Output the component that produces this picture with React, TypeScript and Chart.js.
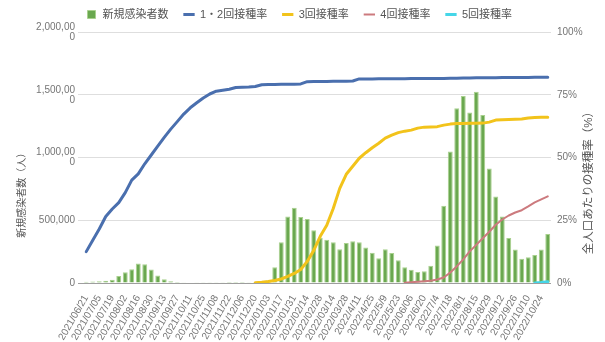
import React, { useEffect, useRef } from 'react';
import { Chart, registerables } from 'chart.js';

Chart.register(...registerables);

// Weekly periods (Monday of each week)
const WEEKS = [
  '2021/06/21', '2021/06/28', '2021/07/05', '2021/07/12', '2021/07/19', '2021/07/26',
  '2021/08/02', '2021/08/09', '2021/08/16', '2021/08/23', '2021/08/30', '2021/09/06',
  '2021/09/13', '2021/09/20', '2021/09/27', '2021/10/04', '2021/10/11', '2021/10/18',
  '2021/10/25', '2021/11/01', '2021/11/08', '2021/11/15', '2021/11/22', '2021/11/29',
  '2021/12/06', '2021/12/13', '2021/12/20', '2021/12/27', '2022/01/03', '2022/01/10',
  '2022/01/17', '2022/01/24', '2022/01/31', '2022/02/07', '2022/02/14', '2022/02/21',
  '2022/02/28', '2022/03/07', '2022/03/14', '2022/03/21', '2022/03/28', '2022/4/4',
  '2022/4/11', '2022/4/18', '2022/4/25', '2022/5/2', '2022/5/9', '2022/5/16',
  '2022/5/23', '2022/5/30', '2022/06/06', '2022/6/13', '2022/6/20', '2022/6/27',
  '2022/7/4', '2022/7/11', '2022/7/18', '2022/7/25', '2022/8/1', '2022/8/8',
  '2022/8/15', '2022/8/22', '2022/8/29', '2022/9/5', '2022/9/12', '2022/9/19',
  '2022/9/26', '2022/10/3', '2022/10/10', '2022/10/17', '2022/10/24', '2022/10/31',
];

// Weekly new cases (people)
const NEW_CASES = [
  10000, 11000, 13000, 18000, 25000, 56000,
  85000, 110000, 155000, 150000, 108000, 60000,
  30000, 14000, 8000, 5000, 3500, 2300,
  1800, 1500, 1200, 1000, 900, 850,
  900, 1100, 1600, 3600, 20000, 125000,
  325000, 530000, 600000, 525000, 510000, 420000,
  360000, 345000, 325000, 268000, 318000, 332000,
  324000, 282000, 242000, 197000, 268000, 239000,
  181000, 125000, 106000, 87000, 94000, 137000,
  298000, 615000, 1048000, 1392000, 1491000, 1358000,
  1523000, 1339000, 913000, 690000, 530000, 359000,
  266000, 194000, 205000, 224000, 266000, 391000,
];

// Vaccination rates, % of total population
const DOSE_12 = [
  12.5, 17, 21.5, 26.5, 29.5, 32,
  36, 41, 43.5, 47.5, 51, 54.5,
  58, 61.3, 64.3, 67.3, 69.8, 71.8,
  73.7, 75.3, 76.4, 76.8, 77.2, 77.9,
  78, 78.1, 78.3, 79, 79.1, 79.1,
  79.2, 79.2, 79.2, 79.3, 80.2, 80.3,
  80.3, 80.3, 80.4, 80.4, 80.4, 80.5,
  81.3, 81.3, 81.3, 81.4, 81.4, 81.4,
  81.4, 81.4, 81.5, 81.5, 81.5, 81.5,
  81.5, 81.5, 81.6, 81.6, 81.7, 81.7,
  81.8, 81.8, 81.8, 81.8, 81.9, 81.9,
  81.9, 81.9, 81.9, 82, 82, 82,
];

const DOSE_3 = [
  null, null, null, null, null, null,
  null, null, null, null, null, null,
  null, null, null, null, null, null,
  null, null, null, null, null, null,
  null, null, 0.1, 0.3, 0.6, 1,
  1.6, 2.6, 3.8, 5.4, 8.6, 13,
  18.6, 23, 29.7, 37.7, 43.3, 46.5,
  49.7, 51.9, 53.9, 55.7, 57.7, 58.9,
  59.9, 60.5, 60.9, 61.7, 62.1, 62.2,
  62.3, 62.9, 63.3, 63.5, 63.5, 63.6,
  63.6, 63.7, 64.1, 64.9, 65, 65.1,
  65.2, 65.3, 65.7, 65.9, 66, 66,
];

const DOSE_4 = [
  null, null, null, null, null, null,
  null, null, null, null, null, null,
  null, null, null, null, null, null,
  null, null, null, null, null, null,
  null, null, null, null, null, null,
  null, null, null, null, null, null,
  null, null, null, null, null, null,
  null, null, null, null, null, null,
  null, 0.1, 0.3, 0.5, 0.7, 0.9,
  1.4, 2.2, 4.2, 6.6, 9.4, 12.6,
  15.2, 17.8, 20.4, 23.2, 25.3, 26.9,
  28.1, 29, 30.5, 32.1, 33.3, 34.5,
];

const DOSE_5 = [
  null, null, null, null, null, null,
  null, null, null, null, null, null,
  null, null, null, null, null, null,
  null, null, null, null, null, null,
  null, null, null, null, null, null,
  null, null, null, null, null, null,
  null, null, null, null, null, null,
  null, null, null, null, null, null,
  null, null, null, null, null, null,
  null, null, null, null, null, null,
  null, null, null, null, null, null,
  null, null, null, 0.05, 0.2, 0.5,
];

const SERIES_NAMES = ['新規感染者数', '1・2回接種率', '3回接種率', '4回接種率', '5回接種率'];
const CASES_TITLE = '新規感染者数（人）';
const RATE_TITLE = '全人口あたりの接種率（%）';

const CASES_MAX = 2000000;
const CASES_STEP = 500000;
const RATE_MAX = 100;
const RATE_STEP = 25;

const FONT = "'Liberation Sans', Arial, 'Noto Sans CJK JP', sans-serif";
const TICK_COLOR = '#757575';
const TEXT_COLOR = '#555555';

// Places the legend row so it starts over the plot, slightly above the default spot
const LEGEND_START_X = 86;
const LEGEND_SHIFT_Y = -6;
const legendPlacement = {
  id: 'legendPlacement',
  afterLayout(chart: any) {
    const lg = chart.legend;
    if (!lg) return;
    const pad = lg.options.labels.padding;
    const dx = LEGEND_START_X - pad - lg.left;
    lg.left += dx;
    lg.right += dx;
    lg.top += LEGEND_SHIFT_Y;
    lg.bottom += LEGEND_SHIFT_Y;
  },
};

// Rotated axis titles drawn beside each value axis
const axisTitles = {
  id: 'axisTitles',
  afterDraw(chart: any) {
    const { ctx, chartArea: a } = chart;
    const draw = (text: string, x: number, frac: number, size: number) => {
      ctx.save();
      ctx.translate(x, a.top + a.height * frac);
      ctx.rotate(-Math.PI / 2);
      ctx.font = `${size}px ${FONT}`;
      ctx.fillStyle = TEXT_COLOR;
      ctx.textAlign = 'center';
      ctx.textBaseline = 'middle';
      ctx.fillText(text, 0, 0);
      ctx.restore();
    };
    draw(CASES_TITLE, 22, 0.64, 10);
    draw(RATE_TITLE, 589, 0.59, 11.5);
  },
};

function formatCases(v: number): string | string[] {
  const s = Number(v).toLocaleString('en-US');
  return s.length > 8 ? [s.slice(0, 8), s.slice(8)] : s;
}

export default function App() {
  const canvasRef = useRef<HTMLCanvasElement | null>(null);

  useEffect(() => {
    const canvas = canvasRef.current;
    if (!canvas) return;

    const lineBase = {
      type: 'line' as const,
      yAxisID: 'y1',
      pointRadius: 0,
      pointHoverRadius: 0,
      pointStyle: 'line',
      tension: 0,
      spanGaps: false,
      borderCapStyle: 'round' as const,
      borderJoinStyle: 'round' as const,
      order: 1,
    };

    const chart = new Chart(canvas, {
      type: 'bar',
      data: {
        labels: WEEKS,
        datasets: [
          {
            type: 'bar',
            label: SERIES_NAMES[0],
            data: NEW_CASES,
            yAxisID: 'y',
            backgroundColor: '#6aa84f',
            borderColor: '#a9d18e',
            borderWidth: 1,
            barPercentage: 0.8,
            categoryPercentage: 0.95,
            pointStyle: 'rect',
            order: 10,
          } as any,
          { ...lineBase, label: SERIES_NAMES[1], data: DOSE_12, borderColor: '#4a6fae', backgroundColor: '#4a6fae', borderWidth: 3 },
          { ...lineBase, label: SERIES_NAMES[2], data: DOSE_3, borderColor: '#f2c31b', backgroundColor: '#f2c31b', borderWidth: 3 },
          { ...lineBase, label: SERIES_NAMES[3], data: DOSE_4, borderColor: '#cc7a7e', backgroundColor: '#cc7a7e', borderWidth: 2 },
          { ...lineBase, label: SERIES_NAMES[4], data: DOSE_5, borderColor: '#45d6e8', backgroundColor: '#45d6e8', borderWidth: 3 },
        ] as any,
      },
      options: {
        responsive: false,
        animation: false,
        events: [],
        layout: { padding: { top: 0, left: 0, right: 0, bottom: 0 } },
        font: { family: FONT },
        plugins: {
          tooltip: { enabled: false },
          legend: {
            position: 'top',
            align: 'start',
            maxHeight: 32,
            labels: {
              usePointStyle: true,
              boxHeight: 8,
              padding: 15,
              color: TEXT_COLOR,
              font: { family: FONT, size: 11 },
              sort: (a: any, b: any) => a.datasetIndex - b.datasetIndex,
            },
          },
        },
        scales: {
          x: {
            offset: true,
            grid: { display: false },
            border: { display: false },
            ticks: {
              autoSkip: false,
              minRotation: 60,
              maxRotation: 60,
              padding: 2,
              color: TICK_COLOR,
              font: { family: FONT, size: 10 },
              callback: (_v: any, i: number) => (i % 2 === 0 ? WEEKS[i] : ''),
            },
            afterFit: (s: any) => { s.height = 59; },
          },
          y: {
            position: 'left',
            min: 0,
            max: CASES_MAX,
            border: { display: false },
            grid: {
              color: (c: any) => (c.tick && c.tick.value === 0 ? '#9e9e9e' : '#dedede'),
              lineWidth: 1,
              drawTicks: true,
              tickLength: 5,
            },
            ticks: {
              stepSize: CASES_STEP,
              padding: 3,
              color: TICK_COLOR,
              font: { family: FONT, size: 10, lineHeight: 1 },
              callback: (v: any) => formatCases(v),
            },
            afterFit: (s: any) => { s.width = 83; },
          },
          y1: {
            position: 'right',
            min: 0,
            max: RATE_MAX,
            border: { display: false },
            grid: { display: false, drawOnChartArea: false, drawTicks: false, tickLength: 0 },
            ticks: {
              stepSize: RATE_STEP,
              padding: 6,
              color: TICK_COLOR,
              font: { family: FONT, size: 10 },
              callback: (v: any) => `${v}%`,
            },
            afterFit: (s: any) => { s.width = 54; },
          },
        },
      } as any,
      plugins: [legendPlacement, axisTitles],
    });

    return () => chart.destroy();
  }, []);

  return (
    <div style={{ position: 'absolute', left: 0, top: 0, width: 605, height: 342, background: '#fff' }}>
      <canvas ref={canvasRef} width={605} height={342} />
    </div>
  );
}
